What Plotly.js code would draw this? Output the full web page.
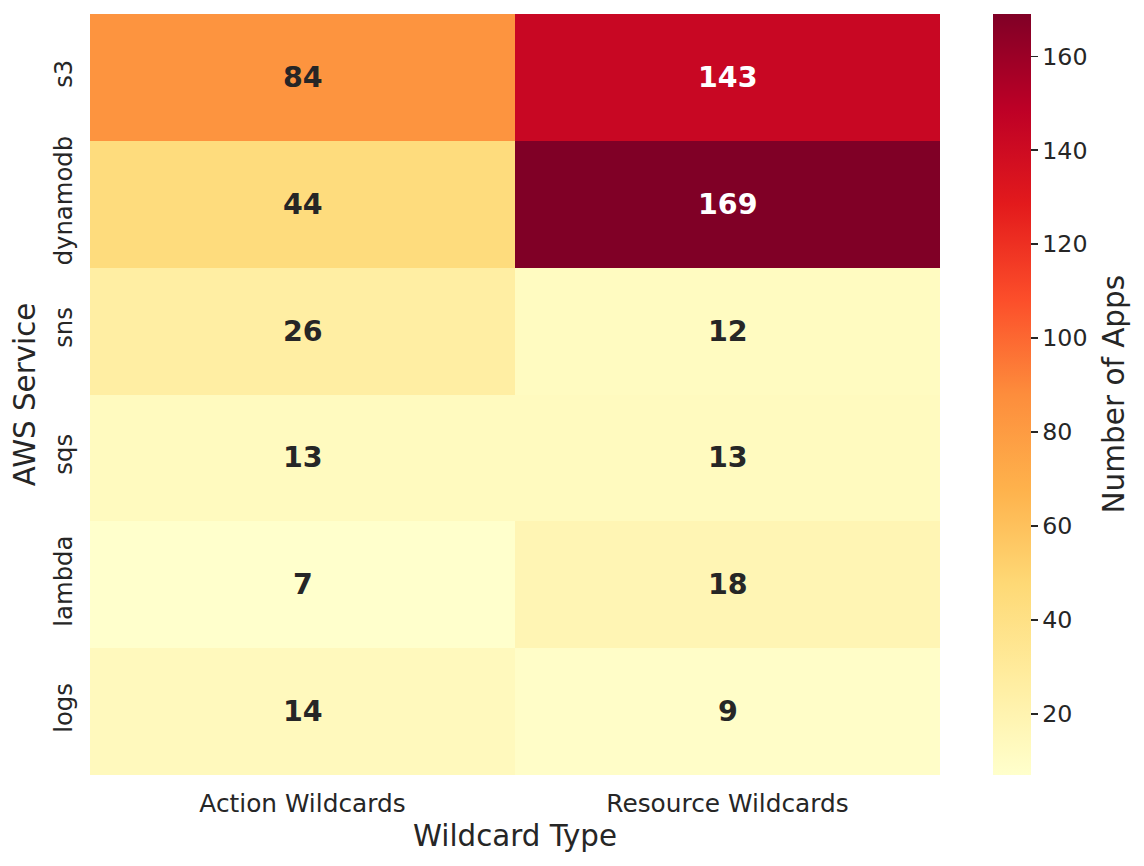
<!DOCTYPE html>
<html>
<head>
<meta charset="utf-8">
<script src="https://cdn.plot.ly/plotly-3.0.1.min.js"></script>
<style>html,body{margin:0;padding:0;background:#fff;}#chart{width:1144px;height:866px;}</style>
</head>
<body>
<div id="chart"></div>
<script>
const services = ["s3", "dynamodb", "sns", "sqs", "lambda", "logs"];
const wildcardTypes = ["Action Wildcards", "Resource Wildcards"];
const actionWildcards = [84, 44, 26, 13, 7, 14];
const resourceWildcards = [143, 169, 12, 13, 18, 9];
const colorbarTicks = [20, 40, 60, 80, 100, 120, 140, 160];
const colorbarLabel = "Number of Apps";

const z = services.map((s, i) => [actionWildcards[i], resourceWildcards[i]]);
const zmin = 7, zmax = 169;

const ylorrd = [
  [0.0, "#ffffcc"], [0.125, "#ffeda0"], [0.25, "#fed976"], [0.375, "#feb24c"],
  [0.5, "#fd8d3c"], [0.625, "#fc4e2a"], [0.75, "#e31a1c"], [0.875, "#bd0026"], [1.0, "#800026"]
];

const FONT = "DejaVu Sans";
const DARK = "#262626";

const annotations = [];
services.forEach((s, i) => {
  wildcardTypes.forEach((w, j) => {
    const v = z[i][j];
    const frac = (v - zmin) / (zmax - zmin);
    annotations.push({
      x: w, y: s, xref: "x", yref: "y", text: "<b>" + v + "</b>", showarrow: false,
      font: {family: FONT, size: 28.5, color: frac > 0.6 ? "#ffffff" : DARK}
    });
  });
});
annotations.push({
  x: (1113 - 90) / 850, y: 0.5, xref: "paper", yref: "paper", xanchor: "center", yanchor: "middle",
  text: colorbarLabel, textangle: -90, showarrow: false,
  font: {family: FONT, size: 29.5, color: DARK}
});

const trace = {
  type: "heatmap",
  x: wildcardTypes,
  y: services,
  z: z,
  zmin: zmin, zmax: zmax,
  colorscale: ylorrd,
  xgap: 0, ygap: 0,
  hoverinfo: "skip",
  colorbar: {
    x: 903 / 850, xanchor: "left", xref: "paper", xpad: 0, ypad: 0,
    y: 0.5, yanchor: "middle", len: 1, lenmode: "fraction",
    thickness: 38, thicknessmode: "pixels",
    outlinewidth: 0,
    tickvals: colorbarTicks,
    tickprefix: "\u2009\u200A",
    ticks: "outside", ticklen: 7, tickwidth: 1.5, tickcolor: DARK,
    tickfont: {family: FONT, size: 23.7, color: DARK}
  }
};

const layout = {
  width: 1144, height: 866,
  margin: {l: 90, r: 204, t: 14, b: 91, pad: 0},
  paper_bgcolor: "#ffffff", plot_bgcolor: "#ffffff",
  font: {family: FONT, color: DARK},
  xaxis: {
    type: "category", showgrid: false, zeroline: false, showline: false, ticks: "",
    ticklabelstandoff: 11,
    tickfont: {family: FONT, size: 24.8, color: DARK},
    title: {text: "Wildcard Type", font: {family: FONT, size: 29.3, color: DARK}, standoff: 8}
  },
  yaxis: {
    type: "category", autorange: "reversed", showgrid: false, zeroline: false, showline: false, ticks: "",
    tickangle: -90, ticklabelstandoff: 12,
    tickfont: {family: FONT, size: 24.3, color: DARK},
    title: {text: "AWS Service", font: {family: FONT, size: 29.3, color: DARK}, standoff: 4}
  },
  annotations: annotations,
  showlegend: false
};

Plotly.newPlot("chart", [trace], layout, {displayModeBar: false, staticPlot: true});
</script>
</body>
</html>
